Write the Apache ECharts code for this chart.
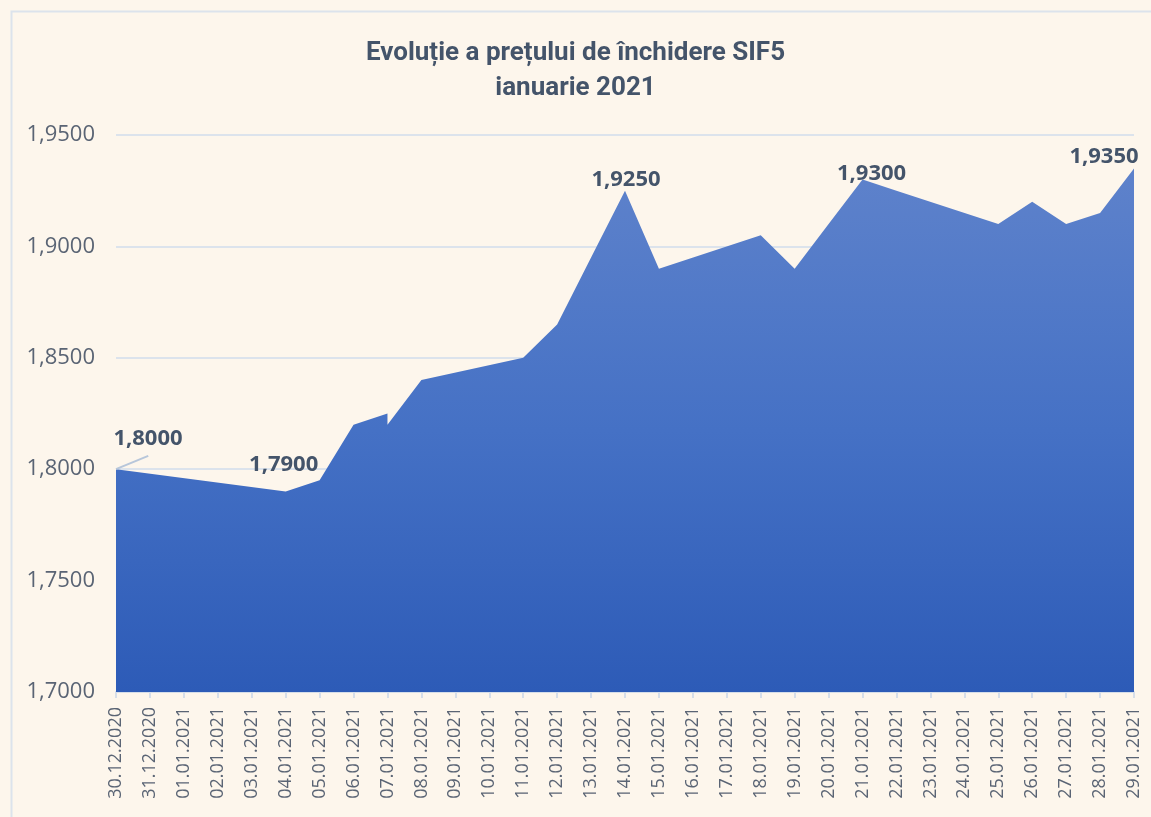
<!DOCTYPE html>
<html>
<head>
<meta charset="utf-8">
<title>SIF5 ianuarie 2021</title>
<script src="https://cdn.jsdelivr.net/npm/echarts@6/dist/echarts.min.js"></script>
<style>
  html, body { margin: 0; padding: 0; background: #FDF6EC; }
  #chart { width: 1151px; height: 817px; }
</style>
</head>
<body>
<div id="chart"></div>
<script>
// categorii (zile calendaristice afisate pe axa X)
var dates = ['30.12.2020', '31.12.2020', '01.01.2021', '02.01.2021', '03.01.2021', '04.01.2021',
    '05.01.2021', '06.01.2021', '07.01.2021', '08.01.2021', '09.01.2021', '10.01.2021',
    '11.01.2021', '12.01.2021', '13.01.2021', '14.01.2021', '15.01.2021', '16.01.2021',
    '17.01.2021', '18.01.2021', '19.01.2021', '20.01.2021', '21.01.2021', '22.01.2021',
    '23.01.2021', '24.01.2021', '25.01.2021', '26.01.2021', '27.01.2021', '28.01.2021',
    '29.01.2021'];
// zilele de tranzactionare (index in dates) si pretul de inchidere
var tradeDay = [0, 5, 6, 7, 8, 8, 9, 12, 13, 14, 15, 16, 19, 20, 21, 22, 23, 26, 27, 28, 29, 30];
var closePrice = [1.800, 1.790, 1.795, 1.820, 1.825, 1.820, 1.840, 1.850, 1.865, 1.895, 1.925,
    1.890, 1.905, 1.890, 1.910, 1.930, 1.925, 1.910, 1.920, 1.910, 1.915, 1.935];
// puncte cu eticheta (index in closePrice)
var labeled = [0, 1, 10, 15, 21];
var yTicks = { min: 1.70, max: 1.95, step: 0.05 };

function fmt(v) {
    return v.toFixed(4).replace('.', ',');
}

// mutari ale etichetelor fata de pozitia 'top'
var labelMove = {0: [32, -14], 1: [-2, -11], 10: [1, 5], 15: [9, 10], 21: [-30, 4]};

var seriesData = [];
for (var i = 0; i < tradeDay.length; i++) {
    var item = { value: [tradeDay[i], closePrice[i]] };
    if (labeled.indexOf(i) >= 0) {
        item.label = { show: true };
    }
    seriesData.push(item);
}

var chart = echarts.init(document.getElementById('chart'));
var option = {
    backgroundColor: '#FDF6EC',
    animation: false,
    title: {
        text: 'Evoluție a prețului de închidere SIF5\nianuarie 2021',
        left: 'center',
        top: 31,
        textStyle: {
            fontFamily: 'Roboto',
            fontWeight: 'bold',
            fontSize: 26,
            lineHeight: 35,
            color: '#44546A'
        }
    },
    graphic: [{
        type: 'rect',
        left: 9,
        top: 9,
        shape: { width: 1200, height: 900 },
        style: { fill: 'none', stroke: '#DCE3EC', lineWidth: 2 },
        silent: true,
        z: -1
    }],
    grid: { left: 116, right: 17, top: 135, bottom: 125 },
    xAxis: {
        type: 'value',
        min: 0,
        max: dates.length - 1,
        interval: 1,
        axisLine: { lineStyle: { color: '#D6DEE9', width: 2 } },
        axisTick: { show: true, length: 6, lineStyle: { color: '#D6DEE9', width: 2 } },
        splitLine: { show: false },
        axisLabel: {
            rotate: 90,
            margin: 15,
            fontFamily: 'Open Sans',
            fontSize: 18,
            color: '#5A6474',
            formatter: function (v) { return dates[v]; }
        }
    },
    yAxis: {
        type: 'value',
        min: yTicks.min,
        max: yTicks.max,
        interval: yTicks.step,
        axisLine: { show: false },
        axisTick: { show: false },
        splitLine: { lineStyle: { color: '#DCE3EC', width: 2 } },
        axisLabel: {
            margin: 21,
            fontFamily: 'Open Sans',
            fontSize: 22,
            color: '#5A6474',
            formatter: function (v) { return fmt(v); }
        }
    },
    series: [{
        type: 'line',
        data: seriesData,
        showSymbol: true,
        symbol: 'circle',
        symbolSize: 0.1,
        itemStyle: { color: 'rgba(0,0,0,0)' },
        lineStyle: { width: 0 },
        label: {
            show: false,
            position: 'top',
            fontFamily: 'Open Sans',
            fontWeight: 'bold',
            fontSize: 22,
            color: '#44546A',
            formatter: function (p) { return fmt(p.value[1]); }
        },
        labelLayout: function (params) {
            var m = labelMove[params.dataIndex];
            if (!m) return {};
            return { dx: m[0], dy: m[1] };
        },
        // linia de legatura a etichetei 1,8000
        markLine: {
            silent: true,
            symbol: 'none',
            label: { show: false },
            lineStyle: { color: '#B7C6DA', width: 2, type: 'solid' },
            data: [[{ coord: [tradeDay[0], closePrice[0]] }, { coord: [0.95, 1.806] }]]
        },
        areaStyle: {
            opacity: 1,
            color: new echarts.graphic.LinearGradient(0, 0, 0, 1, [
                { offset: 0, color: '#5E82CB' },
                { offset: 0.5, color: '#4571C5' },
                { offset: 1, color: '#2D5BB7' }
            ])
        }
    }]
};
chart.setOption(option);
</script>
</body>
</html>
